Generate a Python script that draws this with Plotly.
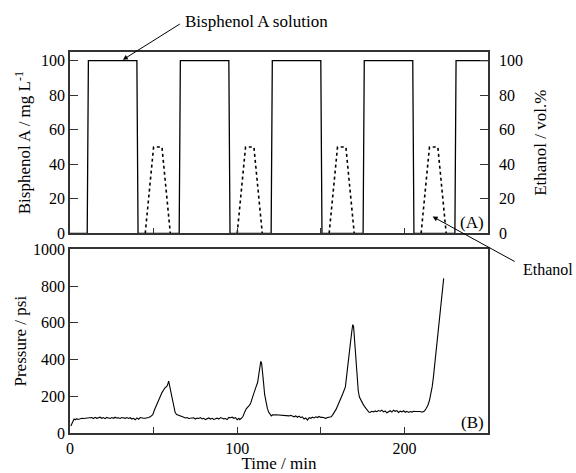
import plotly.graph_objects as go

# Feed schedule (time in min)
bpa_time = [0, 10.3, 11, 40, 40.7, 65.3, 66, 95, 95.7, 120.3, 121, 150, 150.7,
            175.3, 176, 205, 205.7, 230.2, 230.9, 250]
bpa_conc = [0, 0, 100, 100, 0, 0, 100, 100, 0, 0, 100, 100, 0,
            0, 100, 100, 0, 0, 100, 100]

# Ethanol wash pulses (gaps between pulses left undrawn)
ethanol_time = [45, 50, 55, 60, None, 100, 105, 110, 115, None,
                155, 160, 165, 170, None, 210, 215, 220, 225]
ethanol_pct = [0, 50, 50, 0, None, 0, 50, 50, 0, None,
               0, 50, 50, 0, None, 0, 50, 50, 0]

# Column back-pressure record
pressure_time = [
    0.5, 1.5, 2.4, 3.2, 4.0, 4.8, 5.6, 6.4, 7.2, 8, 9, 10, 11, 12, 13, 14, 15, 16,
    17, 18, 19, 20, 21, 22, 23, 24, 25, 26, 27, 28, 29, 30, 31, 32, 33, 34, 35,
    36, 37, 38, 39, 40, 41, 42, 43, 44, 45, 46, 47,
    48, 49.5, 50.5, 51.7, 52.7, 53.7, 55, 56.7, 58, 58.6, 59, 59.4, 60.3, 61,
    61.7, 62.3, 62.9, 63.8, 64.7, 66, 67.7,
    69, 70, 71, 72, 73, 74, 75, 76, 77, 78, 79, 80, 81, 82, 83, 84, 85, 86, 87,
    88, 89, 90, 91, 92, 93, 94, 95, 96, 97, 98, 99, 100, 101, 101.5,
    102.5, 103.5, 104.5, 105.5, 107, 108, 109, 110, 111.2, 112.2, 113, 113.6,
    114.1, 114.6, 115.2, 115.8, 116.4, 117.2, 118, 118.8, 119.6, 120.4, 121.4,
    122, 123, 124, 125, 126, 127, 128, 129, 130, 131, 132, 133, 134, 135, 136,
    137, 138, 139, 140, 141, 142, 143, 144, 145, 146, 147, 148, 149, 150, 151,
    152, 153, 154, 155, 156.2,
    157.2, 158.2, 159.2, 160.2, 161.7, 163.2, 164.7, 165.4, 166.1, 166.9, 167.7,
    168.5, 169.1, 169.6, 170.2, 170.7, 171.2, 171.7, 172.4, 173.1, 174.1, 175.1,
    176.1, 177.1, 178, 178.7,
    179.5, 180.5, 181.5, 182.5, 183.5, 184.5, 185.5, 186.5, 187.5, 188.5, 189.5,
    190.5, 191.5, 192.5, 193.5, 194.5, 195.5, 196.5, 197.5, 198.5, 199.5, 200.5,
    201.5, 202.5, 203.5, 204.5, 205.5, 206.5, 207.5, 208.5, 209.5, 210.5, 211,
    212, 213, 214, 215, 215.8, 216.6, 217.3, 218, 219, 220, 221, 222, 222.8, 223.5,
]
pressure_psi = [
    38, 60, 76, 72, 78, 74, 77, 76, 80, 79, 80, 79, 82, 80, 84, 79, 85, 80,
    83, 86, 80, 84, 78, 85, 82, 79, 84, 80, 86, 81, 83, 79, 84, 82, 80, 84, 79,
    83, 76, 80, 72, 82, 75, 84, 80, 80, 80, 81, 84,
    88, 100, 125, 150, 175, 196, 220, 245, 255, 270, 282, 265, 224, 190,
    160, 130, 111, 100, 96, 92, 87,
    82, 84, 79, 80, 78, 83, 76, 81, 79, 84, 77, 80, 73, 79, 82, 76, 80, 74, 78,
    81, 76, 84, 80, 77, 79, 73, 85, 83, 86, 80, 84, 72, 80, 73,
    80, 91, 115, 133, 148, 160, 190, 222, 250, 275, 333, 370,
    390, 380, 340, 270, 210, 165, 135, 114, 100, 93, 100,
    98, 99, 98, 99, 97, 98, 96, 92, 95, 93, 96, 94, 88, 93, 86,
    92, 84, 88, 76, 82, 70, 84, 80, 86, 82, 88, 84, 90, 85, 86,
    82, 80, 84, 86, 88,
    100, 114, 130, 151, 180, 215, 251, 300, 360, 425, 488,
    550, 590, 580, 500, 433, 350, 287, 230, 196, 175, 160,
    145, 133, 120, 114,
    112, 118, 115, 120, 116, 122, 119, 124, 115, 120, 110,
    118, 121, 114, 124, 118, 122, 112, 119, 115, 121, 113,
    118, 112, 117, 114, 118, 117, 118, 116, 117, 113, 114,
    120, 133, 150, 178, 210, 251, 300, 360, 440, 524, 615, 706, 780, 842,
]

x_tickvals = [0, 50, 100, 150, 200, 250]
x_ticktext = ["0", "", "100", "", "200", ""]
conc_ticks = [0, 20, 40, 60, 80, 100]
pressure_ticks = [0, 200, 400, 600, 800, 1000]

FONT = "Liberation Serif"
FRAME = "#333333"

fig = go.Figure()

fig.add_trace(go.Scatter(
    x=bpa_time, y=bpa_conc, xaxis="x2", yaxis="y2", mode="lines",
    line=dict(color="black", width=1.3), showlegend=False, hoverinfo="skip",
))
fig.add_trace(go.Scatter(
    x=ethanol_time, y=ethanol_pct, xaxis="x2", yaxis="y3", mode="lines",
    connectgaps=False,
    line=dict(color="black", width=1.6, dash="dot"), showlegend=False,
    hoverinfo="skip",
))
fig.add_trace(go.Scatter(
    x=pressure_time, y=pressure_psi, xaxis="x", yaxis="y", mode="lines",
    line=dict(color="black", width=1.1), showlegend=False, hoverinfo="skip",
))

axis_common = dict(
    showline=True, linecolor=FRAME, linewidth=1.5, mirror=True,
    ticks="inside", tickcolor=FRAME, showgrid=False, zeroline=False,
    automargin=False,
    tickfont=dict(family=FONT, size=16, color="black"),
)

fig.update_layout(
    width=576, height=473,
    margin=dict(l=70, r=88, t=52, b=40),
    paper_bgcolor="white", plot_bgcolor="white",
    font=dict(family=FONT, size=17, color="black"),
    xaxis=dict(
        **axis_common, domain=[0, 1], anchor="y", range=[0, 250],
        tickvals=x_tickvals, ticktext=x_ticktext, ticklen=6,
        ticklabelstandoff=0,
        title=dict(text="Time / min", font=dict(family=FONT, size=17), standoff=6),
    ),
    yaxis=dict(
        **axis_common, domain=[0, 0.482], anchor="x", range=[0, 1000],
        tickvals=pressure_ticks, ticklen=8,
        title=dict(text="Pressure / psi", font=dict(family=FONT, size=17), standoff=2),
    ),
    xaxis2=dict(
        **axis_common, domain=[0, 1], anchor="y2", range=[0, 250],
        matches="x", tickvals=x_tickvals, showticklabels=False, ticklen=6,
    ),
    yaxis2=dict(
        **axis_common, domain=[0.524, 1], anchor="x2", range=[0, 105],
        tickvals=conc_ticks, ticklen=8,
        title=dict(text="Bisphenol A / mg L<sup>-1</sup>",
                   font=dict(family=FONT, size=17), standoff=6),
    ),
    yaxis3=dict(
        showline=True, linecolor=FRAME, linewidth=1.5,
        ticks="inside", tickcolor=FRAME, ticklen=8, showgrid=False, zeroline=False,
        automargin=False, ticklabelstandoff=6,
        tickfont=dict(family=FONT, size=16, color="black"),
        overlaying="y2", side="right", anchor="x2", range=[0, 105],
        tickvals=conc_ticks,
        title=dict(text="Ethanol / vol.%", font=dict(family=FONT, size=17), standoff=12),
    ),
)

# Panel tags
fig.add_annotation(x=240.5, y=6, xref="x2", yref="y2", text="(A)",
                   showarrow=False, font=dict(family=FONT, size=17))
fig.add_annotation(x=240.5, y=58, xref="x", yref="y", text="(B)",
                   showarrow=False, font=dict(family=FONT, size=17))

# Callouts
fig.add_annotation(x=31.6, y=100.5, xref="x2", yref="y2", text=" ",
                   showarrow=True, arrowhead=2, arrowsize=1, arrowwidth=1,
                   arrowcolor="black", ax=59, ay=-37, font=dict(size=2))
fig.add_annotation(x=0.27, y=1.081, xref="paper", yref="paper",
                   text="Bisphenol A solution", showarrow=False,
                   xanchor="left", yanchor="middle",
                   font=dict(family=FONT, size=17))
fig.add_annotation(x=216.9, y=9.7, xref="x2", yref="y3", text=" ",
                   showarrow=True, arrowhead=2, arrowsize=1, arrowwidth=1,
                   arrowcolor="black", ax=84, ay=46, font=dict(size=2))
fig.add_annotation(x=1.078, y=0.428, xref="paper", yref="paper",
                   text="Ethanol", showarrow=False,
                   xanchor="left", yanchor="middle",
                   font=dict(family=FONT, size=16))

fig.write_html("out.html")
